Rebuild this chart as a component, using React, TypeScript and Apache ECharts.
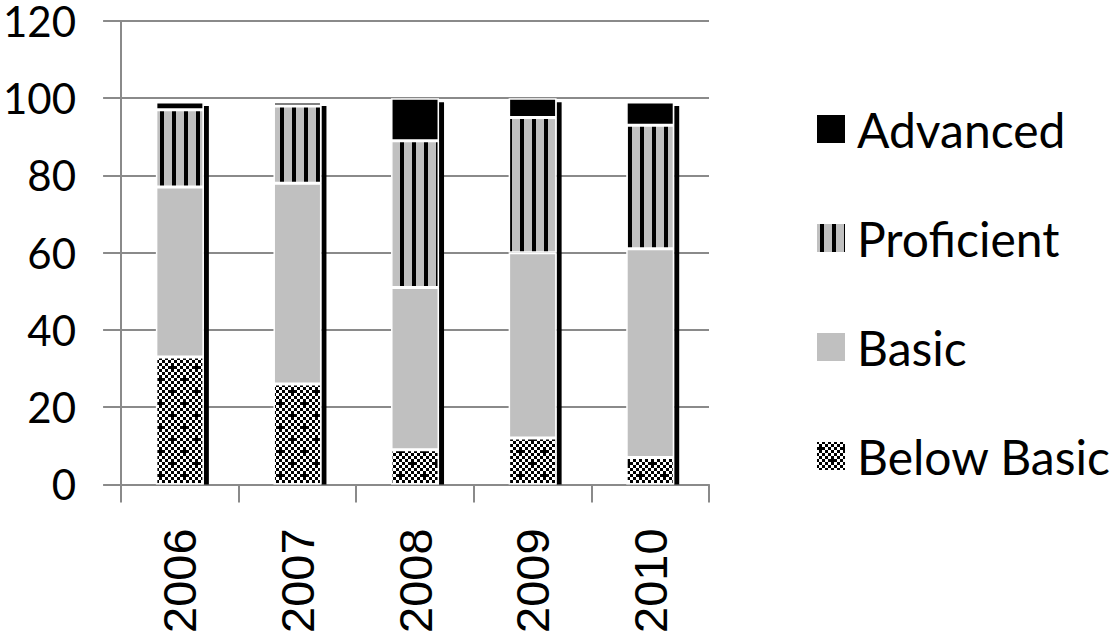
import React, { useEffect, useRef } from "react";
import * as echarts from "echarts";

const categories = ["2006", "2007", "2008", "2009", "2010"];
const belowBasic = [33, 26, 9, 12, 7];
const basic = [44, 52, 42, 48, 54];
const proficient = [20, 20, 38, 35, 32];
const advanced = [2, 1, 11, 5, 6];
const yTicks = [0, 20, 40, 60, 80, 100, 120];

function makeStripe(): HTMLCanvasElement {
  const c = document.createElement("canvas");
  c.width = 12;
  c.height = 12;
  const ctx = c.getContext("2d")!;
  ctx.fillStyle = "#c0c0c0";
  ctx.fillRect(0, 0, 12, 12);
  ctx.fillStyle = "#000";
  ctx.fillRect(4, 0, 4, 12);
  return c;
}

function makeChecker(): HTMLCanvasElement {
  const c = document.createElement("canvas");
  c.width = 24;
  c.height = 24;
  const ctx = c.getContext("2d")!;
  ctx.fillStyle = "#fff";
  ctx.fillRect(0, 0, 24, 24);
  ctx.fillStyle = "#000";
  for (let i = 0; i < 8; i++) {
    for (let j = 0; j < 8; j++) {
      if ((i + j) % 2 === 0) ctx.fillRect(i * 3, j * 3, 3, 3);
    }
  }
  const plus = (x: number, y: number) => {
    ctx.fillRect(x - 4.5, y - 1.5, 9, 3);
    ctx.fillRect(x - 1.5, y - 4.5, 3, 9);
  };
  plus(4.5, 7.5);
  plus(16.5, 19.5);
  return c;
}

export default function App() {
  const ref = useRef<HTMLDivElement>(null);
  useEffect(() => {
    if (!ref.current) return;
    const chart = echarts.init(ref.current, null, { renderer: "svg" });
    const stripe = makeStripe();
    const checker = makeChecker();
    const totals = categories.map(
      (_, i) => belowBasic[i] + basic[i] + proficient[i] + advanced[i]
    );
    const barBase = {
      type: "bar" as const,
      stack: "total",
      barWidth: 48,
      z: 3,
    };
    const border = { borderColor: "#fff", borderWidth: 1.5 };
    chart.setOption({
      animation: false,
      grid: { left: 121, right: 402, top: 15, bottom: 147 },
      legend: {
        data: ["Advanced", "Proficient", "Basic", "Below Basic"],
        orient: "vertical",
        left: 810,
        top: 100,
        itemWidth: 30,
        itemHeight: 30,
        itemGap: 61,
        icon: "rect",
        textStyle: {
          fontFamily: "Lato",
          fontSize: 48,
          color: "#000",
          padding: [0, 0, 0, 6],
        },
      },
      xAxis: {
        type: "category",
        data: categories,
        axisLine: { lineStyle: { color: "#8a8a8a", width: 2 } },
        axisTick: {
          show: true,
          length: 18,
          lineStyle: { color: "#8a8a8a", width: 2 },
        },
        axisLabel: {
          rotate: 90,
          margin: 44,
          fontFamily: "Liberation Sans",
          fontSize: 47,
          color: "#000",
        },
      },
      yAxis: {
        type: "value",
        min: yTicks[0],
        max: yTicks[yTicks.length - 1],
        interval: 20,
        axisLine: { show: true, lineStyle: { color: "#8a8a8a", width: 2 } },
        axisTick: {
          show: true,
          length: 18,
          lineStyle: { color: "#8a8a8a", width: 2 },
        },
        splitLine: { lineStyle: { color: "#8a8a8a", width: 2 } },
        axisLabel: {
          margin: 45,
          fontFamily: "Lato",
          fontSize: 42,
          lineHeight: 22,
          color: "#000",
          padding: [8, 0, 0, 0],
        },
      },
      series: [
        {
          type: "custom",
          name: "shadow",
          z: 2,
          data: categories.map((c, i) => [i, totals[i]]),
          renderItem: (params: any, api: any) => {
            const top = api.coord([api.value(0), api.value(1)]);
            const base = api.coord([api.value(0), 0]);
            return {
              type: "rect",
              shape: {
                x: top[0] + 24,
                y: top[1] + 4,
                width: 5,
                height: base[1] - top[1] - 4,
              },
              style: { fill: "#000" },
            };
          },
        },
        {
          ...barBase,
          name: "Below Basic",
          data: belowBasic,
          itemStyle: {
            color: { image: checker, repeat: "repeat" },
            ...border,
          },
        },
        {
          ...barBase,
          name: "Basic",
          data: basic,
          itemStyle: { color: "#c0c0c0", ...border },
        },
        {
          ...barBase,
          name: "Proficient",
          data: proficient,
          itemStyle: {
            color: { image: stripe, repeat: "repeat" },
            ...border,
          },
        },
        {
          ...barBase,
          name: "Advanced",
          data: advanced,
          itemStyle: { color: "#000", ...border },
        },
      ],
    });
    return () => chart.dispose();
  }, []);
  return (
    <div
      ref={ref}
      style={{ width: 1111, height: 636, position: "absolute", left: 0, top: 0 }}
    />
  );
}
